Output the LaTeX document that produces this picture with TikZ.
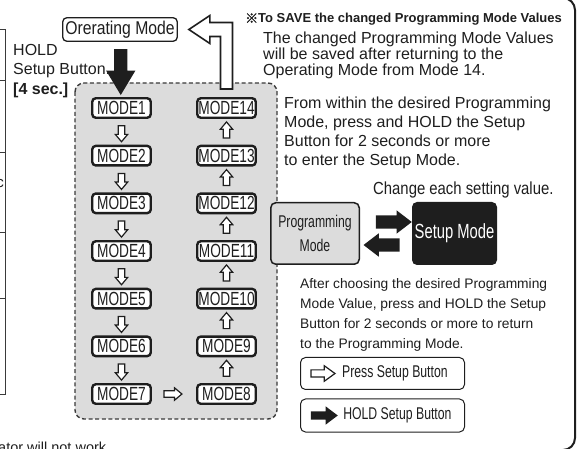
\documentclass[tikz,border=0pt]{standalone}
\usepackage{fontspec}
\setmainfont{Liberation Sans}
\newfontfamily\narrowsf[FakeStretch=0.72]{Liberation Sans}
\newfontfamily\semisf[FakeStretch=0.85]{Liberation Sans}
\newfontfamily\cjk[FakeBold=1.5]{Noto Sans CJK JP}
\usetikzlibrary{arrows.meta,shapes.arrows,positioning,calc}

\definecolor{panelgray}{HTML}{DCDCDC}
\definecolor{ink}{HTML}{1E1E1E}
\definecolor{dashgray}{HTML}{3A3A3A}

\tikzset{
  modebox/.style={draw=ink, line width=2.4pt, rounded corners=3.5pt, fill=white, minimum width=58.5pt, minimum height=19.5pt, inner sep=0pt, text=ink, font=\narrowsf\fontsize{19}{19}\selectfont},
  opbox/.style={draw=ink, line width=1.3pt, rounded corners=4pt, fill=white, minimum width=114.5pt, minimum height=23.5pt, inner sep=0pt, text=ink, font=\semisf\fontsize{18.5}{18.5}\selectfont},
  progbox/.style={draw=ink, line width=1.5pt, rounded corners=5pt, fill=panelgray, minimum width=88.5pt, minimum height=61.5pt, align=center, inner sep=0pt, text=ink, font=\narrowsf\fontsize{17}{24}\selectfont},
  setupbox/.style={fill=ink, rounded corners=5pt, minimum width=85pt, minimum height=63pt, inner sep=0pt, text=white, font=\narrowsf\fontsize{20.5}{20.5}\selectfont},
  legendbox/.style={draw=ink, line width=1pt, rounded corners=5pt, minimum width=164pt, minimum height=32pt, inner sep=0pt},
  legendtext/.style={inner sep=0pt, text=ink, font=\narrowsf\fontsize{17}{17}\selectfont},
  notetext/.style={inner sep=0pt, align=left, text=ink, anchor=north west},
  steparrow/.style={single arrow, draw=ink, fill=white, line width=1.2pt, inner sep=2.6pt, single arrow head extend=3pt, single arrow tip angle=80, minimum height=16pt},
  pressarrow/.style={single arrow, draw=ink, fill=white, line width=1.2pt, inner sep=3pt, single arrow head extend=4.2pt, single arrow tip angle=72, minimum height=24pt},
  holdkey/.style={single arrow, fill=ink, inner sep=4pt, single arrow head extend=5pt, single arrow tip angle=74, minimum height=27pt},
  holdarrow/.style={single arrow, fill=ink, inner sep=6.5pt, single arrow head extend=8pt, single arrow tip angle=62, minimum height=46pt},
  swaparrow/.style={single arrow, fill=ink, inner sep=6.5pt, single arrow head extend=5pt, single arrow tip angle=75, minimum height=36pt},
  backarrow/.style={draw=ink, fill=white, line width=1.6pt, line join=miter}
}

\begin{document}
\begin{tikzpicture}[x=1pt,y=-1pt]
  \useasboundingbox (0,0) rectangle (579,449);

  % neighbouring page content cut at the edges
  \draw[dashgray, line width=1pt] (0,30) -- (5,30) -- (5,395) -- (0,395);
  \foreach \y in {81,153,233,299}
    \draw[dashgray, line width=1pt] (0,\y) -- (5,\y);
  \node[notetext, anchor=base east, font=\fontsize{15}{15}\selectfont] at (4,188) {c};
  \node[notetext, anchor=base west, font=\fontsize{14.5}{14.5}\selectfont] at (-2,452) {ator will not work.};
  \draw[ink, line width=2pt, rounded corners=12pt] (545,-2) -- (575,-2) -- (575,450) -- (545,450);

  % dashed panel behind the mode chain
  \draw[draw=dashgray, fill=panelgray, line width=1.4pt, dash pattern=on 4pt off 2.6pt, rounded corners=9pt] (75,83) rectangle (277,419);

  \node[opbox] (opmode) at (120,29.5) {Orerating Mode};

  % mode chain
  \foreach \i in {1,...,7}
    \node[modebox] (m\i) at (121.5,{108+47.67*(\i-1)}) {MODE\i};
  \foreach \i in {8,...,14}
    \node[modebox] (m\i) at (226.5,{108+47.67*(14-\i)}) {MODE\i};

  \foreach \i in {1,...,6}{
    \pgfmathtruncatemacro\j{\i+1}
    \node[steparrow, rotate=-90] at ($(m\i.south)!0.5!(m\j.north)$) {};
  }
  \foreach \i in {8,...,13}{
    \pgfmathtruncatemacro\j{\i+1}
    \node[steparrow, rotate=90] at ($(m\i.north)!0.5!(m\j.south)$) {};
  }
  \node[steparrow, minimum height=18pt] at ($(m7.east)!0.5!(m8.west)+(-3,0)$) {};

  % hold: operating mode -> MODE1
  \node[holdarrow, rotate=-90] at ($(opmode.south)!0.5!(m1.north)+(0,-3)$) {};

  % MODE14 -> back to operating mode
  \coordinate (rtip) at ([xshift=11pt]opmode.east);
  \coordinate (rfoot) at ([yshift=8pt]m14.north);
  \draw[backarrow] (rtip) -- ++(21,-14) -- ++(0,7)
    -- ($(rfoot |- rtip)+(6,-7)$) -- ([xshift=6pt]rfoot) -- ([xshift=-6pt]rfoot)
    -- ($(rfoot |- rtip)+(-6,7)$) -- ($(rtip)+(21,7)$) -- ++(0,7) -- cycle;

  \node[notetext, font=\fontsize{16}{19.5}\selectfont] (hold) at (13,44) {HOLD\\Setup Button.\\\textbf{[4 sec.]}};

  % notes on the right
  \node[notetext, anchor=base west, font=\bfseries\fontsize{13}{13}\selectfont] (savehead) at (245,23) {{\cjk ※}To SAVE the changed Programming Mode Values};
  \node[notetext, font=\fontsize{16}{15.8}\selectfont] (savenote) at (263,32) {The changed Programming Mode Values\\will be saved after returning to the\\Operating Mode from Mode 14.};
  \node[notetext, font=\fontsize{16}{19}\selectfont] (enternote) at (284,97) {From within the desired Programming\\Mode, press and HOLD the Setup\\Button for 2 seconds or more\\to enter the Setup Mode.};
  \node[notetext, anchor=base west, font=\semisf\fontsize{17.5}{17.5}\selectfont] (changenote) at (373,195) {Change each setting value.};

  % programming mode <-> setup mode
  \node[progbox] (prog) at (315,233.5) {Programming\\Mode};
  \node[setupbox] (setup) at (454.5,233.5) {Setup Mode};
  \node[swaparrow] at ($(prog.east)!0.5!(setup.west)+(3.5,-11.5)$) {};
  \node[swaparrow, rotate=180] at ($(prog.east)!0.5!(setup.west)+(0,11.5)$) {};

  \node[notetext, font=\fontsize{13.8}{20}\selectfont] (returnnote) at (300,278) {After choosing the desired Programming\\Mode Value, press and HOLD the Setup\\Button for 2 seconds or more to return\\to the Programming Mode.};

  % legend
  \node[legendbox] (pressbox) at (382.5,373.5) {};
  \node[pressarrow] (pressarw) at ([xshift=20.5pt]pressbox.west) {};
  \node[legendtext, right=6pt of pressarw] {Press Setup Button};
  \node[legendbox, minimum height=33pt] (holdbox) at (382.5,415.5) {};
  \node[holdkey] (holdarw) at ([xshift=21.5pt]holdbox.west) {};
  \node[legendtext, right=5pt of holdarw] {HOLD Setup Button};
\end{tikzpicture}
\end{document}
